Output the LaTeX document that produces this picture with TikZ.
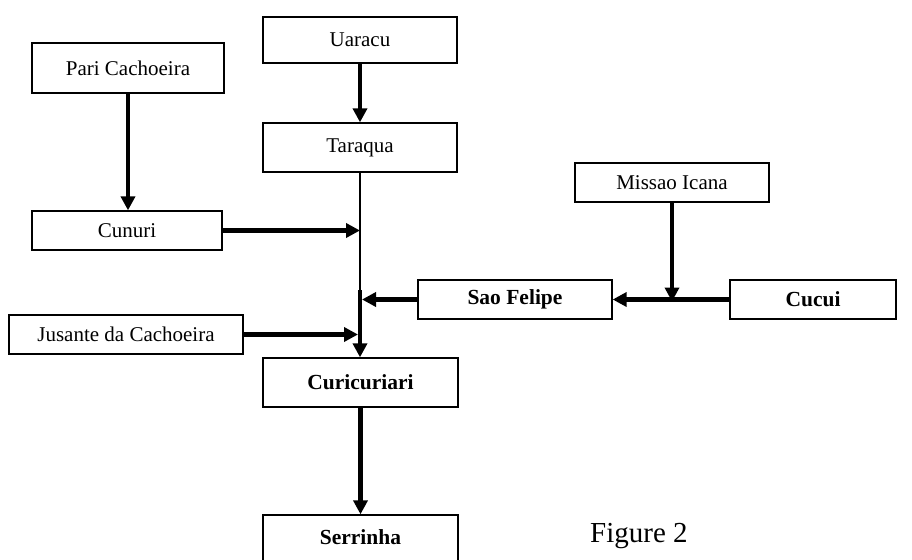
\documentclass[tikz,border=0pt]{standalone}
\usepackage{fontspec}
\setmainfont{Liberation Serif}
\usetikzlibrary{arrows.meta}
\tikzset{
  box/.style={draw=black, line width=1.3pt, fill=white, inner sep=0pt, font=\fontsize{21}{24}\selectfont},
  boldbox/.style={box, font=\fontsize{21.5}{24}\selectfont\bfseries},
  flow/.style={line width=4.2pt, -{Triangle[length=14pt,width=14pt]}},
  thinline/.style={line width=1.2pt}
}
\begin{document}
\begin{tikzpicture}[x=1pt,y=-1pt]
\useasboundingbox (0,0) rectangle (912,559);
\node[box, minimum width=192pt, minimum height=50pt] (pari) at (128,68) {Pari Cachoeira};
\node[box, minimum width=194pt, minimum height=46pt] (uaracu) at (360,40) {Uaracu};
\node[box, minimum width=194pt, minimum height=49pt] (taraqua) at (360,147.5) {Taraqua};
\node[box, minimum width=194pt, minimum height=39pt] (missao) at (672,182.5) {Missao Icana};
\node[box, minimum width=190pt, minimum height=39pt] (cunuri) at (127,230.5) {Cunuri};
\node[boldbox, minimum width=194pt, minimum height=39pt] (saofelipe) at (515,299.5) {Sao Felipe};
\node[boldbox, minimum width=166pt, minimum height=39pt] (cucui) at (813,299.5) {Cucui};
\node[box, minimum width=234pt, minimum height=39pt] (jusante) at (126,334.5) {Jusante da Cachoeira};
\node[boldbox, minimum width=195pt, minimum height=49pt] (curicuriari) at (360.5,382.5) {Curicuriari};
\node[boldbox, minimum width=195pt, minimum height=60pt] (serrinha) at (360.5,545) {\raisebox{15pt}{Serrinha}};
\node[anchor=base west, inner sep=0pt, font=\fontsize{29}{32}\selectfont] (fig) at (590,542) {Figure 2};
\coordinate (trunktop) at (360,290);
% connectors
\draw[flow] (pari.south) -- (pari.south |- cunuri.north);
\draw[flow] (uaracu.south) -- (taraqua.north);
\draw[thinline] (taraqua.south) -- (trunktop);
\draw[flow] (trunktop) -- (trunktop |- curicuriari.north);
\draw[flow] (cunuri.east) -- (cunuri.east -| trunktop);
\draw[flow] (saofelipe.west) -- ([xshift=2pt]saofelipe.west -| trunktop);
\draw[flow] (jusante.east) -- ([xshift=-2pt]jusante.east -| trunktop);
\draw[flow] (cucui.west) -- (saofelipe.east);
\draw[flow] (missao.south) -- ([yshift=-2pt]missao.south |- saofelipe.east);
\draw[flow] (curicuriari.south) -- (serrinha.north);
\end{tikzpicture}
\end{document}
